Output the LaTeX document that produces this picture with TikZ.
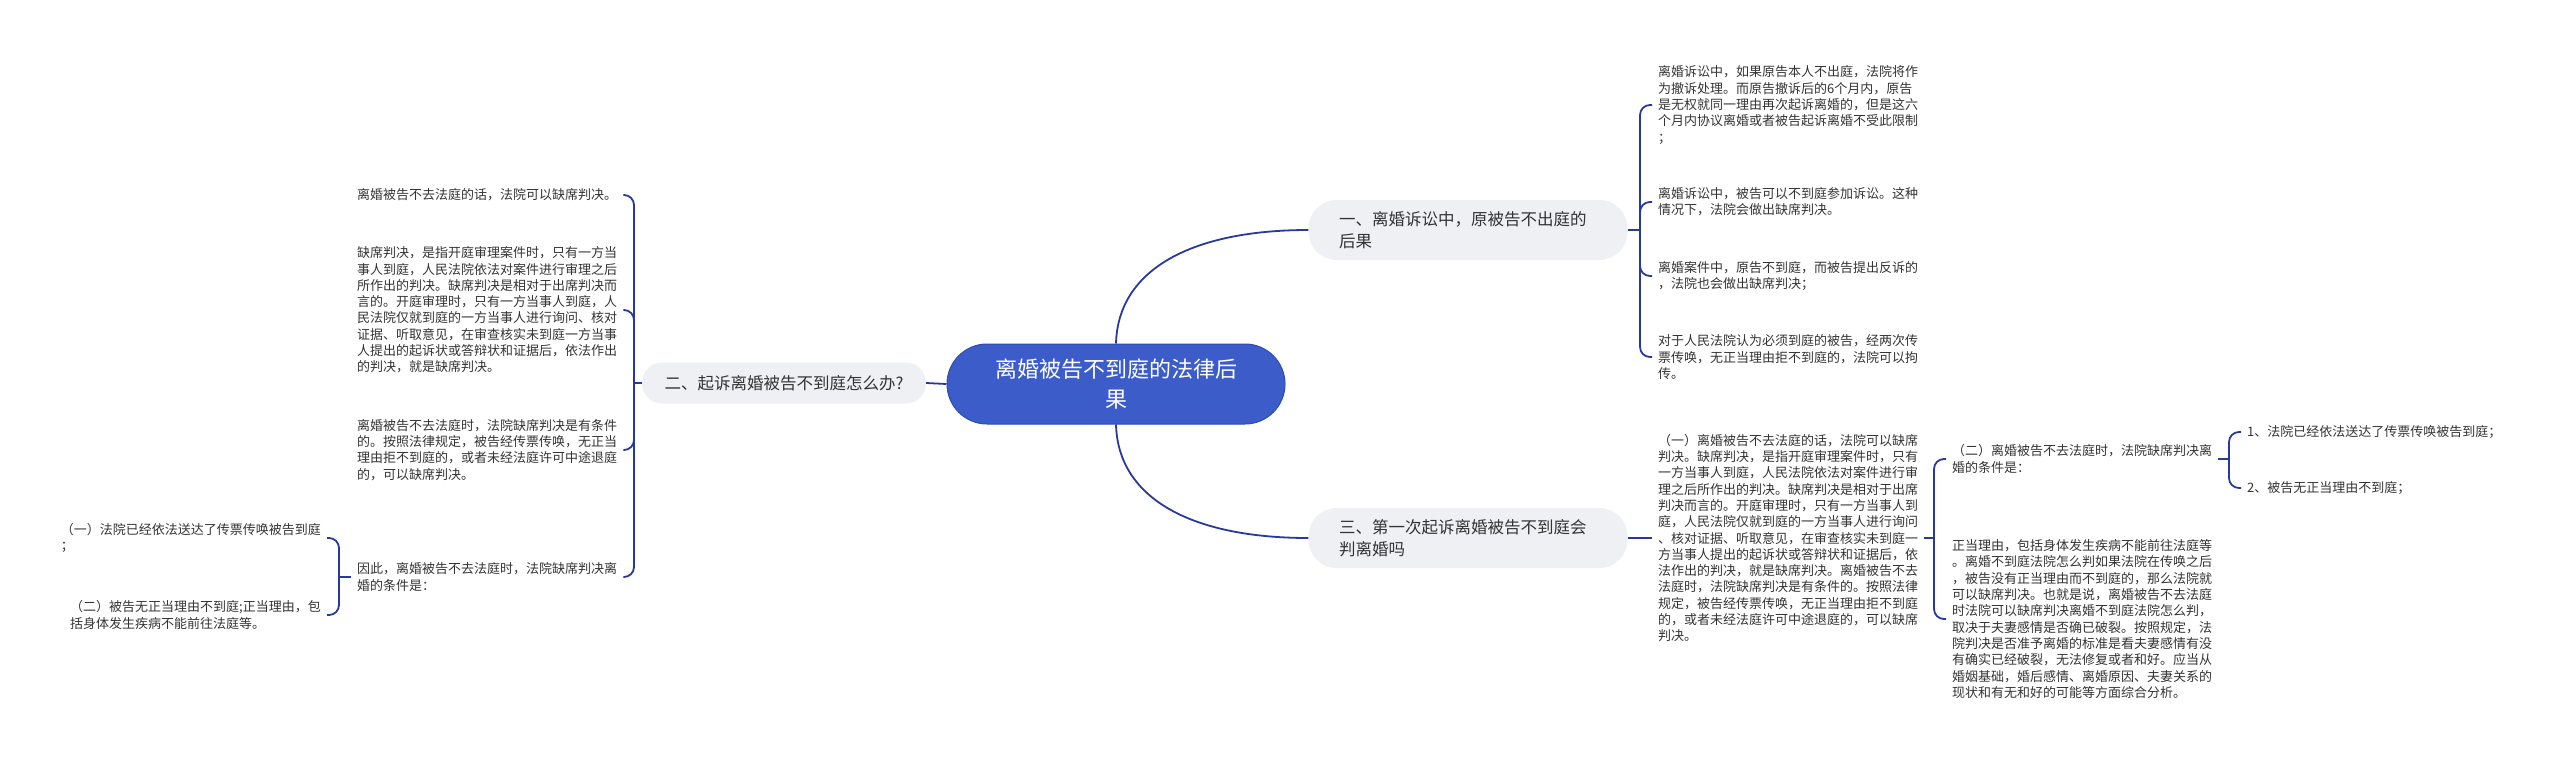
\documentclass[tikz,border=0pt]{standalone}
\usepackage{fontspec}
\newfontfamily\cjk{Noto Sans CJK SC}
\definecolor{lineblue}{HTML}{27399A}
\definecolor{rootblue}{HTML}{3B5CC9}
\definecolor{rootedge}{HTML}{2E4DB3}
\definecolor{pill}{HTML}{EEF0F3}
\definecolor{txt}{HTML}{333333}
\begin{document}
\begin{tikzpicture}[x=1pt,y=-1pt,
  conn/.style={draw=lineblue, line width=1.8pt},
  brace/.style={conn, rounded corners=10pt},
  leaf/.style={font=\cjk\fontsize{13}{16.3}\selectfont, text=txt, align=left, inner xsep=6pt, inner ysep=2pt},
  branchbox/.style={fill=pill, rounded corners=28pt, minimum height=60pt, text width=258pt, inner xsep=30.5pt,
    font=\cjk\fontsize{16.5}{22}\selectfont, text=txt, align=left},
  rootbox/.style={fill=rootblue, draw=rootedge, line width=1pt, rounded corners=40pt, minimum width=338pt, minimum height=80pt,
    font=\cjk\fontsize{22}{30}\selectfont, text=white, align=center}]
\useasboundingbox (0,0) rectangle (2560,763);

% root and branches
\node[rootbox] (root) at (1116,384) {离婚被告不到庭的法律后\\果};
\node[branchbox] (b1) at (1468,230) {一、离婚诉讼中，原被告不出庭的\\后果};
\node[branchbox] (b3) at (1468,538) {三、第一次起诉离婚被告不到庭会\\判离婚吗};
\node[fill=pill, rounded corners=20pt, minimum height=41pt, minimum width=284pt,
  font=\cjk\fontsize{16.5}{22}\selectfont, text=txt] (b2) at (784,383) {二、起诉离婚被告不到庭怎么办?};

\draw[conn] (root.west) -- (b2.east);
\draw[conn] (root.north) .. controls +(2,-75) and +(-115,0) .. (b1.west);
\draw[conn] (root.south) .. controls +(2,75) and +(-115,0) .. (b3.west);

% branch 1 children
\node[leaf, anchor=west] (r1) at (1652,105) {离婚诉讼中，如果原告本人不出庭，法院将作\\为撤诉处理。而原告撤诉后的6个月内，原告\\是无权就同一理由再次起诉离婚的，但是这六\\个月内协议离婚或者被告起诉离婚不受此限制\\；};
\node[leaf, anchor=west] (r2) at (1652,202) {离婚诉讼中，被告可以不到庭参加诉讼。这种\\情况下，法院会做出缺席判决。};
\node[leaf, anchor=west] (r3) at (1652,276) {离婚案件中，原告不到庭，而被告提出反诉的\\，法院也会做出缺席判决；};
\node[leaf, anchor=west] (r4) at (1652,357) {对于人民法院认为必须到庭的被告，经两次传\\票传唤，无正当理由拒不到庭的，法院可以拘\\传。};
\coordinate (jb1) at (1640,230);
\draw[conn] (b1.east) -- (jb1);
\foreach \c in {r1,r2,r3,r4} \draw[brace] (jb1) |- (\c.west);

% branch 2 children
\node[leaf, anchor=west] (l1) at (351,195) {离婚被告不去法庭的话，法院可以缺席判决。};
\node[leaf, anchor=west] (l2) at (351,310) {缺席判决，是指开庭审理案件时，只有一方当\\事人到庭，人民法院依法对案件进行审理之后\\所作出的判决。缺席判决是相对于出席判决而\\言的。开庭审理时，只有一方当事人到庭，人\\民法院仅就到庭的一方当事人进行询问、核对\\证据、听取意见，在审查核实未到庭一方当事\\人提出的起诉状或答辩状和证据后，依法作出\\的判决，就是缺席判决。};
\node[leaf, anchor=west] (l3) at (351,450) {离婚被告不去法庭时，法院缺席判决是有条件\\的。按照法律规定，被告经传票传唤，无正当\\理由拒不到庭的，或者未经法庭许可中途退庭\\的，可以缺席判决。};
\node[leaf, anchor=west] (l4) at (351,577) {因此，离婚被告不去法庭时，法院缺席判决离\\婚的条件是：};
\coordinate (jb2) at (634,383);
\draw[conn] (b2.west) -- (jb2);
\foreach \c in {l1,l2,l3,l4} \draw[brace] (jb2) |- (\c.east);

\node[leaf, anchor=east] (ll1) at (327,538) {（一）法院已经依法送达了传票传唤被告到庭\\；};
\node[leaf, anchor=east] (ll2) at (327,615) {（二）被告无正当理由不到庭;正当理由，包\\括身体发生疾病不能前往法庭等。};
\coordinate (jl4) at (339,577);
\draw[conn] (l4.west) -- (jl4);
\foreach \c in {ll1,ll2} \draw[brace] (jl4) |- (\c.east);

% branch 3 children
\node[leaf, anchor=west] (r3a) at (1652,538) {（一）离婚被告不去法庭的话，法院可以缺席\\判决。缺席判决，是指开庭审理案件时，只有\\一方当事人到庭，人民法院依法对案件进行审\\理之后所作出的判决。缺席判决是相对于出席\\判决而言的。开庭审理时，只有一方当事人到\\庭，人民法院仅就到庭的一方当事人进行询问\\、核对证据、听取意见，在审查核实未到庭一\\方当事人提出的起诉状或答辩状和证据后，依\\法作出的判决，就是缺席判决。离婚被告不去\\法庭时，法院缺席判决是有条件的。按照法律\\规定，被告经传票传唤，无正当理由拒不到庭\\的，或者未经法庭许可中途退庭的，可以缺席\\判决。};
\draw[conn] (b3.east) -- (r3a.west);

\node[leaf, anchor=west] (r3b) at (1946,459) {（二）离婚被告不去法庭时，法院缺席判决离\\婚的条件是：};
\node[leaf, anchor=west] (r3c) at (1946,619) {正当理由，包括身体发生疾病不能前往法庭等\\。离婚不到庭法院怎么判如果法院在传唤之后\\，被告没有正当理由而不到庭的，那么法院就\\可以缺席判决。也就是说，离婚被告不去法庭\\时法院可以缺席判决离婚不到庭法院怎么判，\\取决于夫妻感情是否确已破裂。按照规定，法\\院判决是否准予离婚的标准是看夫妻感情有没\\有确实已经破裂，无法修复或者和好。应当从\\婚姻基础，婚后感情、离婚原因、夫妻关系的\\现状和有无和好的可能等方面综合分析。};
\coordinate (jr3a) at (1934,538);
\draw[conn] (r3a.east) -- (jr3a);
\foreach \c in {r3b,r3c} \draw[brace] (jr3a) |- (\c.west);

\node[leaf, anchor=west] (rl1) at (2241,432) {1、法院已经依法送达了传票传唤被告到庭；};
\node[leaf, anchor=west] (rl2) at (2241,488) {2、被告无正当理由不到庭；};
\coordinate (jr3b) at (2229,459);
\draw[conn] (r3b.east) -- (jr3b);
\foreach \c in {rl1,rl2} \draw[brace] (jr3b) |- (\c.west);
\end{tikzpicture}
\end{document}
